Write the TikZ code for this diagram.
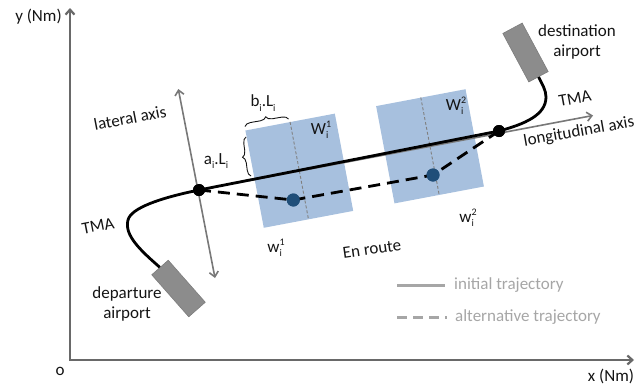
\documentclass[tikz,border=0pt]{standalone}
\usepackage{fontspec}
\setmainfont{Carlito}
\usetikzlibrary{arrows.meta,decorations.pathreplacing}
\definecolor{axisgray}{RGB}{105,105,105}
\definecolor{latgray}{RGB}{120,120,120}
\definecolor{boxblue}{RGB}{167,192,222}
\definecolor{wpblue}{RGB}{31,78,121}
\definecolor{apgray}{RGB}{140,140,140}
\definecolor{apedge}{RGB}{125,125,125}
\definecolor{leggray}{RGB}{166,166,166}
\definecolor{txt}{RGB}{20,20,20}
\newcommand{\sbs}[1]{\raisebox{-0.55ex}{\fontsize{10}{10}\selectfont #1}}
\newcommand{\ssb}[2]{\rlap{\raisebox{-0.55ex}{\fontsize{10}{10}\selectfont #1}}\raisebox{0.8ex}{\fontsize{10}{10}\selectfont #2}}
\tikzset{
  axisline/.style={draw=axisgray, line width=2.2pt, {Straight Barb[length=5pt,width=9pt]}-{Straight Barb[length=5pt,width=9pt]}},
  latline/.style={draw=latgray, line width=1.6pt},
  barb/.style={-{Straight Barb[length=5pt,width=9pt]}},
  dbarb/.style={{Straight Barb[length=5pt,width=9pt]}-{Straight Barb[length=5pt,width=9pt]}},
  wbox/.style={fill=boxblue, draw=none, inner sep=0pt, minimum width=91pt, minimum height=99pt, rotate=10.7},
  midline/.style={draw=gray, line width=0.9pt, dash pattern=on 3pt off 2pt},
  traj/.style={draw=black, line width=2.8pt},
  alttraj/.style={draw=black, line width=2.8pt, dash pattern=on 12pt off 7pt},
  bdot/.style={circle, fill=black, inner sep=0pt, minimum size=12pt},
  wdot/.style={circle, fill=wpblue, inner sep=0pt, minimum size=13pt},
  airport/.style={fill=apgray, draw=apedge, line width=0.6pt, inner sep=0pt, minimum height=22pt},
  lbl/.style={text=txt, inner sep=0pt, align=center},
  legtxt/.style={text=leggray, inner sep=0pt, anchor=west},
  leg/.style={draw=leggray, line width=2.8pt},
  brc/.style={draw=txt, line width=0.9pt, decorate, decoration={brace, amplitude=6pt}}
}
\begin{document}
\begin{tikzpicture}[x=1pt, y=-1pt, font=\fontsize{17}{20}\selectfont]
\useasboundingbox (0,0) rectangle (636,391);
% axes
\coordinate (ytip) at (70,8);
\coordinate (orig) at (70,360);
\coordinate (xtip) at (634,360);
\draw[axisline] (ytip) -- (orig) -- (xtip);
\node[lbl] (ylab) at (38.5,17) {y (Nm)};
\node[lbl] (olab) at (60,371) {o};
\node[lbl] (xlab) at (611,376) {x (Nm)};
% boxes
\node[wbox] (W1) at (299.3,170.7) {};
\node[wbox] (W2) at (430,146.3) {};
\draw[midline] (W1.north) -- (W1.south);
\draw[midline] (W2.north) -- (W2.south);
\node[lbl] (W1lab) at (321,130) {W\ssb{i}{1}};
\node[lbl] (W2lab) at (456,106) {W\ssb{i}{2}};
% airports
\node[airport, minimum width=56pt, rotate=-48.6] (dep) at (178.5,288.5) {};
\node[airport, minimum width=55pt, rotate=-61.8] (dest) at (525.5,52.5) {};
% key points
\node[bdot] (p1) at (199,190) {};
\node[bdot] (p2) at (499,131) {};
\node[wdot] (w1) at (293.3,200) {};
\node[wdot] (w2) at (433,175) {};
% lateral and longitudinal axes
\coordinate (latT) at (178.3,89);
\coordinate (latB) at (215,278);
\coordinate (lonT) at (593,115.5);
\draw[latline, dbarb] (latB) -- (latT);
\draw[latline, barb] (p1.center) -- (lonT);
% trajectories
\draw[traj] (dep.west) .. controls (140,250) and (124,235) .. (128,220)
  .. controls (131,208) and (160,198) .. (p1.center) -- (p2.center)
  .. controls (525,124) and (546,115) .. (546,97)
  .. controls (546,90) and (542,84) .. (dest.east);
\draw[alttraj] (p1.center) -- (w1.center) -- (w2.center) -- (p2.center);
\node[bdot] at (p1) {};
\node[bdot] at (p2) {};
\node[wdot] at (w1) {};
\node[wdot] at (w2) {};
% braces
\coordinate (bA) at (245,126.5);
\coordinate (bB) at (288.5,119);
\coordinate (aA) at (251,176);
\coordinate (aB) at (246,137);
\draw[brc] (bA) -- (bB);
\draw[brc] (aA) -- (aB);
\node[lbl] (blab) at (263,103) {b\sbs{i}.L\sbs{i}};
\node[lbl] (alab) at (216,161) {a\sbs{i}.L\sbs{i}};
% labels
\node[lbl, rotate=11] (latlab) at (130,118) {lateral axis};
\node[lbl, rotate=10] (lonlab) at (579,132) {longitudinal axis};
\node[lbl, rotate=10.5] (tma2) at (575,98.5) {TMA};
\node[lbl, rotate=11] (tma1) at (98,226) {TMA};
\node[lbl] (destlab) at (577,42) {destination\\airport};
\node[lbl] (deplab) at (127,304) {departure\\airport};
\node[lbl, rotate=8] (enroute) at (372,249) {En route};
\node[lbl] (w1lab) at (276,248) {w\ssb{i}{1}};
\node[lbl] (w2lab) at (468,218) {w\ssb{i}{2}};
% legend
\coordinate (l1a) at (397,285.5);
\coordinate (l1b) at (445,285.5);
\coordinate (l2a) at (397,317.5);
\coordinate (l2b) at (447,317.5);
\draw[leg] (l1a) -- (l1b);
\draw[leg, dash pattern=on 10pt off 6pt] (l2a) -- (l2b);
\node[legtxt] (leg1) at (454,285) {initial trajectory};
\node[legtxt] (leg2) at (455,317) {alternative trajectory};
\end{tikzpicture}
\end{document}
